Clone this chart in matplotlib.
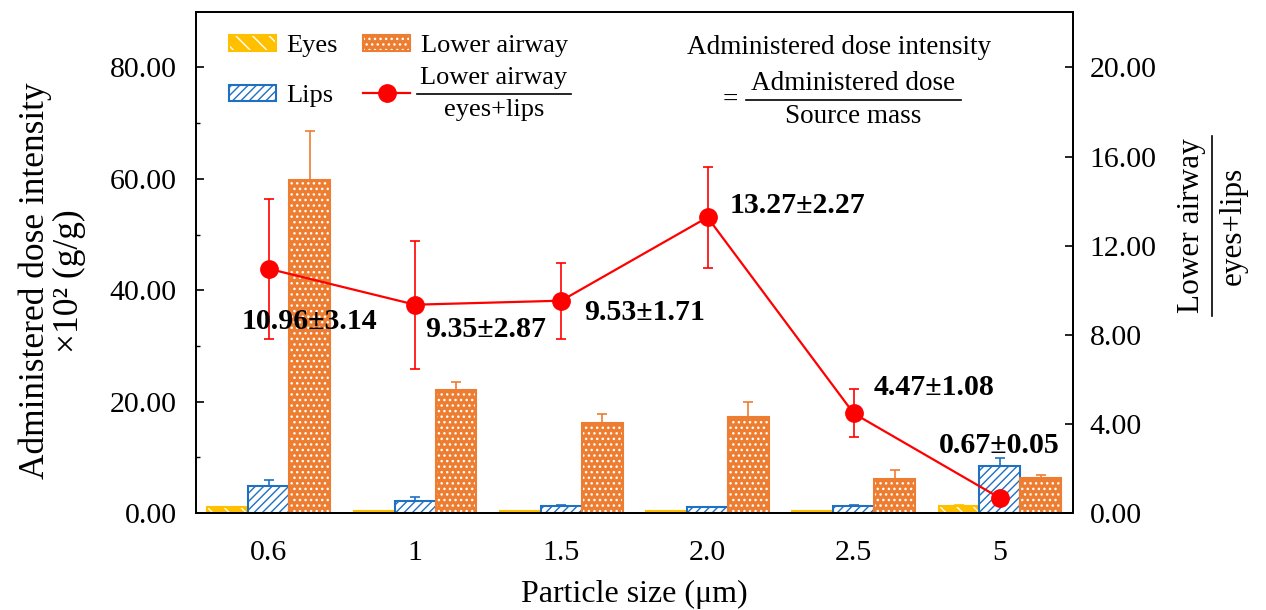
import numpy as np
import matplotlib
matplotlib.use('Agg')
import matplotlib.pyplot as plt
from matplotlib.patches import Patch
from matplotlib.lines import Line2D

plt.rcParams.update({
    'font.family': 'Liberation Serif',
    'hatch.linewidth': 1.0,
    'axes.linewidth': 1.3,
})

# data
sizes = ['0.6', '1', '1.5', '2.0', '2.5', '5']
eyes = [1.0, 0.4, 0.4, 0.3, 0.3, 1.2]
eyes_err = [0.1, 0.05, 0.05, 0.05, 0.05, 0.2]
lips = [4.9, 2.2, 1.3, 1.0, 1.25, 8.5]
lips_err = [1.0, 0.6, 0.1, 0.1, 0.1, 1.4]
lower = [59.7, 22.0, 16.2, 17.3, 6.1, 6.35]
lower_err = [8.8, 1.5, 1.5, 2.6, 1.6, 0.5]
ratio = [10.96, 9.35, 9.53, 13.27, 4.47, 0.67]
ratio_err = [3.14, 2.87, 1.71, 2.27, 1.08, 0.05]

c_eyes = '#FFC000'
c_lips = '#1F70C1'
c_low = '#ED7D31'
c_ratio = '#FF0000'

x = np.arange(len(sizes))
w = 0.28

fig = plt.figure(figsize=(12.66, 6.10), dpi=100)
ax = fig.add_axes([0.1546, 0.159, 0.693, 0.8218])

# bars: hatched fill first, outline on top
ax.bar(x - w, eyes, w, color=c_eyes, edgecolor='white', hatch='\\\\', linewidth=0)
ax.bar(x - w, eyes, w, facecolor='none', edgecolor=c_eyes, linewidth=1.5)
ax.bar(x, lips, w, facecolor='white', edgecolor=c_lips, hatch='////', linewidth=1.5)
ax.bar(x + w, lower, w, color=c_low, edgecolor='white', hatch='...', linewidth=0)
ax.bar(x + w, lower, w, facecolor='none', edgecolor=c_low, linewidth=1.5)

zeros = np.zeros(len(x))
ax.errorbar(x - w, eyes, yerr=[zeros, eyes_err], fmt='none', ecolor=c_eyes,
            capsize=3.6, elinewidth=1.2, capthick=1.2)
ax.errorbar(x, lips, yerr=[zeros, lips_err], fmt='none', ecolor=c_lips,
            capsize=3.6, elinewidth=1.2, capthick=1.2)
ax.errorbar(x + w, lower, yerr=[zeros, lower_err], fmt='none', ecolor=c_low,
            capsize=3.6, elinewidth=1.2, capthick=1.2)

ax.set_xlim(-0.5, 5.5)
ax.set_ylim(0, 90)
ax.set_xticks(x)
ax.set_xticklabels(sizes)
ax.set_yticks([0, 20, 40, 60, 80])
ax.set_yticks([10, 30, 50, 70], minor=True)
ax.yaxis.set_major_formatter('{x:.2f}')
ax.tick_params(axis='y', which='major', direction='in', length=6, width=1.2,
               pad=13.5, labelsize=21.5)
ax.tick_params(axis='y', which='minor', direction='in', length=3, width=1.0)
ax.tick_params(axis='x', length=0, pad=19.5, labelsize=21.5)

ax.set_xlabel('Particle size (μm)', fontsize=23, labelpad=10)
ax.set_ylabel('Administered dose intensity\n×10² (g/g)', fontsize=25.5,
              linespacing=1.05)
ax.yaxis.set_label_coords(-0.125, 0.463)

# ratio line on the right axis
ax2 = ax.twinx()
ax2.errorbar(x, ratio, yerr=ratio_err, color=c_ratio, marker='o', ms=12.5,
             lw=1.6, elinewidth=1.2, capsize=3.6, capthick=1.2)
ax2.set_ylim(0, 22.5)
ax2.set_yticks(np.arange(0, 21, 4))
ax2.yaxis.set_major_formatter('{x:.2f}')
ax2.tick_params(axis='y', direction='in', length=6, width=1.2, pad=12,
                labelsize=21.5)

# value labels next to the ratio points (offsets in points)
offsets = [(29.5, -38), (51, -18), (60, -8.6), (65, 8.6), (57.6, 19), (-0.7, 38)]
for xi, r, e, off in zip(x, ratio, ratio_err, offsets):
    ax2.annotate(f'{r:.2f}±{e:.2f}', (xi, r), textcoords='offset points',
                 xytext=off, ha='center', va='center', fontsize=21.5,
                 fontweight='bold')

# legend
h_eyes = (Patch(facecolor=c_eyes, edgecolor='white', hatch='\\\\', lw=0),
          Patch(facecolor='none', edgecolor=c_eyes, lw=1.5))
h_lips = Patch(facecolor='white', edgecolor=c_lips, hatch='////', lw=1.5)
h_low = (Patch(facecolor=c_low, edgecolor='white', hatch='...', lw=0),
         Patch(facecolor='none', edgecolor=c_low, lw=1.5))
h_ratio = Line2D([], [], color=c_ratio, marker='o', ms=12.5, lw=1.6)

ax.legend([h_eyes, h_lips, h_low, h_ratio], ['Eyes', 'Lips', 'Lower airway', ' '],
          ncol=2, loc='upper left', bbox_to_anchor=(0.038, 0.954), frameon=False,
          borderpad=0, borderaxespad=0, fontsize=19, handlelength=1.78,
          handleheight=0.55, handletextpad=0.4, labelspacing=1.05,
          columnspacing=0.95)

# stacked fractions: numerator / bar / denominator
fracs = []


def frac(xy, num, den, fs, gap, rotation=0, margin=3):
    if rotation == 0:
        t1 = ax.annotate(num, xy, xycoords='axes fraction', xytext=(0, gap),
                         textcoords='offset points', ha='center', va='bottom',
                         fontsize=fs)
        t2 = ax.annotate(den, xy, xycoords='axes fraction', xytext=(0, -gap),
                         textcoords='offset points', ha='center', va='top',
                         fontsize=fs)
    else:
        t1 = ax.annotate(num, xy, xycoords='axes fraction', xytext=(-gap, 0),
                         textcoords='offset points', ha='right', va='center',
                         fontsize=fs, rotation=90, annotation_clip=False)
        t2 = ax.annotate(den, xy, xycoords='axes fraction', xytext=(gap, 0),
                         textcoords='offset points', ha='left', va='center',
                         fontsize=fs, rotation=90, annotation_clip=False)
    fracs.append((xy, t1, t2, rotation, margin))


frac((0.34, 0.8358), 'Lower airway', 'eyes+lips', 19, 3.5)
frac((0.7498, 0.8239), 'Administered dose', 'Source mass', 19.5, 3.0, margin=5)
frac((1.1585, 0.5725), 'Lower airway', 'eyes+lips', 22.5, 4.5, rotation=90)

ax.text(0.733, 0.928, 'Administered dose intensity', transform=ax.transAxes,
        ha='center', va='center', fontsize=19.5)
ax.text(0.609, 0.8239, '=', transform=ax.transAxes, ha='center', va='center',
        fontsize=19.5)

fig.canvas.draw()
renderer = fig.canvas.get_renderer()
to_fig = fig.transFigure.inverted()
for xy, t1, t2, rot, margin in fracs:
    cx, cy = ax.transAxes.transform(xy)
    b1 = t1.get_window_extent(renderer)
    b2 = t2.get_window_extent(renderer)
    if rot == 0:
        half = max(b1.width, b2.width) / 2 + margin
        pts = [(cx - half, cy), (cx + half, cy)]
    else:
        half = max(b1.height, b2.height) / 2 + margin
        pts = [(cx, cy - half), (cx, cy + half)]
    (x0, y0), (x1, y1) = to_fig.transform(pts)
    fig.add_artist(Line2D([x0, x1], [y0, y1], color='black', lw=1.2))

fig.savefig('out.png', dpi=100)
